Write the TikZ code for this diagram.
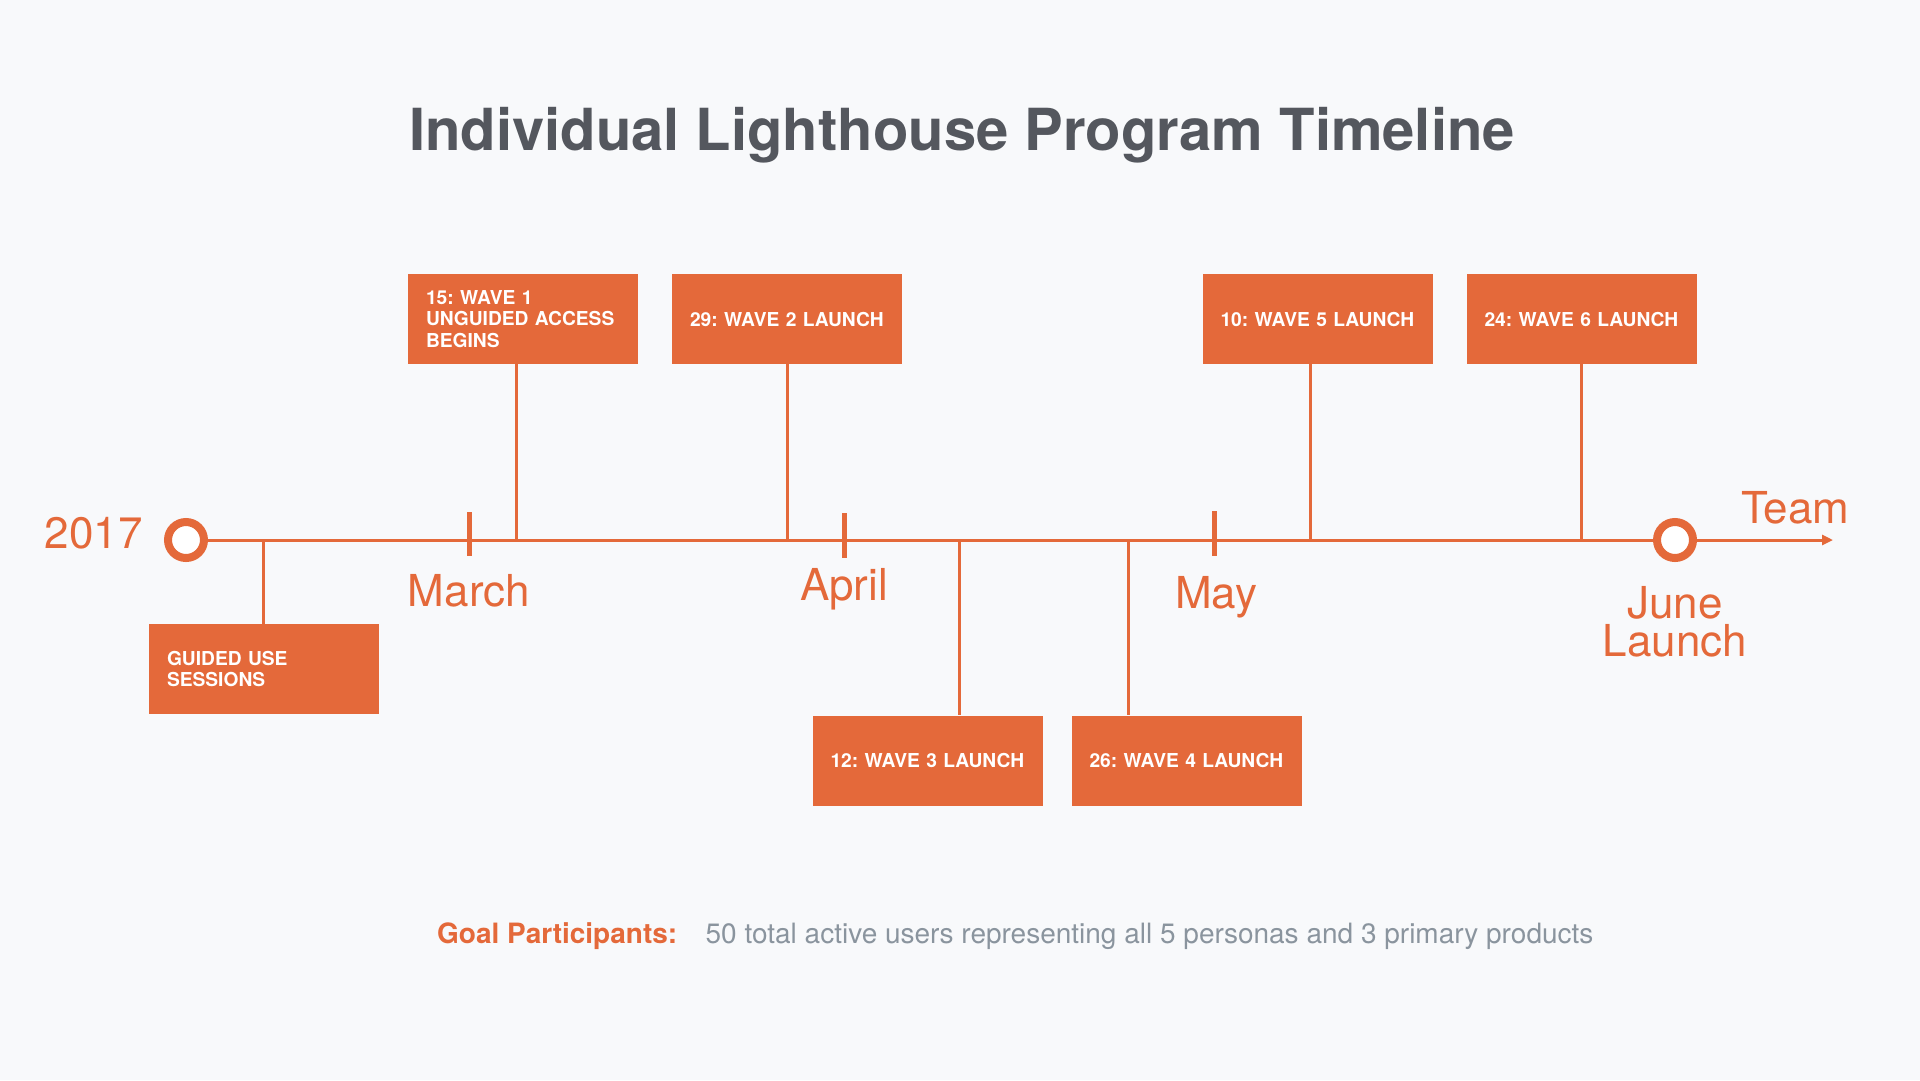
\documentclass[tikz,border=0pt]{standalone}
\usepackage{fontspec}
\setmainfont{TeX Gyre Heros}
\usetikzlibrary{arrows.meta,positioning}
\definecolor{lhorange}{HTML}{E4693A}
\definecolor{lhtitle}{HTML}{54575E}
\definecolor{lhnote}{HTML}{8A949E}
\definecolor{lhbg}{HTML}{F8F9FB}
\begin{document}
\begin{tikzpicture}[x=1pt,y=-1pt,every node/.style={inner sep=0pt},
  evt/.style={fill=lhorange,text=white,font=\fontsize{19.2}{21.5}\selectfont\bfseries\frenchspacing,align=left,text width=194pt,inner xsep=18pt,minimum height=90pt},
  mon/.style={text=lhorange,font=\fontsize{44}{38}\selectfont,anchor=base},
  ring/.style={circle,draw=lhorange,line width=8pt,fill=white,minimum size=36pt},
  lnk/.style={draw=lhorange,line width=3pt},
  tck/.style={draw=lhorange,line width=5pt},
  >={Triangle[length=11pt,width=10pt]}]
\fill[lhbg] (0,0) rectangle (1920,1080);
\node[font=\fontsize{58}{70}\selectfont\bfseries,text=lhtitle,anchor=base] (title) at (962,150) {Individual Lighthouse Program Timeline};
\node[evt] (gu) at (264,669) {GUIDED USE\\SESSIONS};
\node[evt] (w1) at (523,319) {15: WAVE 1\\UNGUIDED ACCESS\\BEGINS};
\node[evt] (w2) at (787,319) {29: WAVE 2 LAUNCH};
\node[evt] (w3) at (927.5,760.5) {12: WAVE 3 LAUNCH};
\node[evt] (w4) at (1186.5,760.5) {26: WAVE 4 LAUNCH};
\node[evt] (w5) at (1317.5,319) {10: WAVE 5 LAUNCH};
\node[evt] (w6) at (1581.5,319) {24: WAVE 6 LAUNCH};
\coordinate (e0) at (263,540);\coordinate (e1) at (516,540);\coordinate (e2) at (787,540);
\coordinate (e3) at (959,540);\coordinate (e4) at (1128,540);\coordinate (e5) at (1310,540);
\coordinate (e6) at (1581,540);\coordinate (end) at (1833,540);
\coordinate (tmar) at (469,540);\coordinate (tapr) at (844,540);\coordinate (tmay) at (1214,540);
\draw[lnk] (e0)--(e0|-gu.north);\draw[lnk] (e1)--(e1|-w1.south);\draw[lnk] (e2)--(e2|-w2.south);
\draw[lnk] (e3)--(e3|-w3.north);\draw[lnk] (e4)--(e4|-w4.north);\draw[lnk] (e5)--(e5|-w5.south);
\draw[lnk] (e6)--(e6|-w6.south);
\draw[tck] (tmar) ++(0,-28)--++(0,44);\draw[tck] (tapr) ++(0,-27)--++(0,45);\draw[tck] (tmay) ++(0,-29)--++(0,45);
\node[ring] (start) at (186,540) {};
\node[ring] (jun) at (1675,540) {};
\draw[lnk] (start)--(jun);\draw[lnk,->] (jun)--(end);
\node[mon,anchor=base east] (yr) at (143,548) {2017};
\node[mon] (mar) at (469,606) {March};
\node[mon] (apr) at (844,600) {April};
\node[mon] (may) at (1216,608) {May};
\node[mon,anchor=base west] (team) at (1741,523) {Team};
\node[mon,align=center,below=24pt of jun] (jl) {June\\Launch};
\node[text=lhorange,font=\fontsize{28}{34}\selectfont\bfseries,anchor=base west] (goal) at (437,943) {Goal Participants:};
\node[text=lhnote,font=\fontsize{28}{34}\selectfont,base right=28pt of goal] (note) {50 total active users representing all 5 personas and 3 primary products};
\end{tikzpicture}
\end{document}
